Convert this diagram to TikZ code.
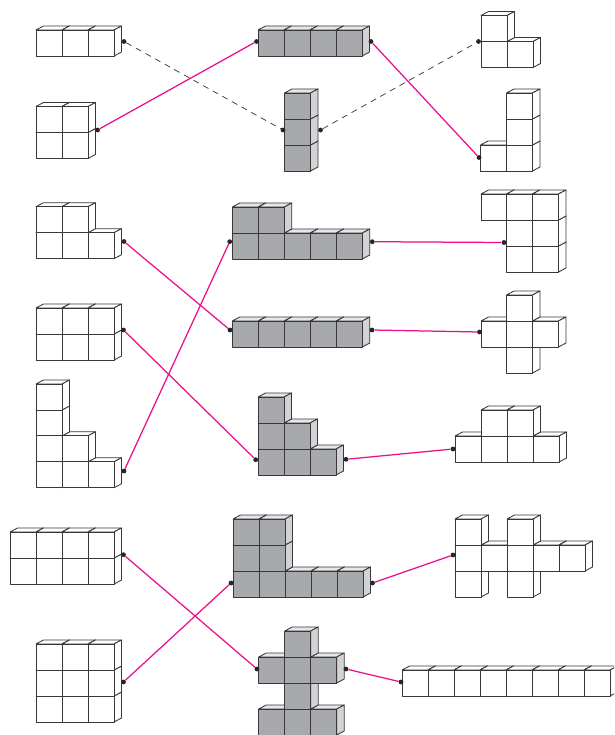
\documentclass[tikz,border=0pt]{standalone}
\definecolor{cubeink}{HTML}{38383A}
\definecolor{pinkline}{HTML}{EC0F8C}
\definecolor{cubegray}{HTML}{A7A9AC}
\definecolor{cubeside}{HTML}{D1D3D4}
\definecolor{cubetop}{HTML}{E6E7E8}
\tikzset{
  cubeline/.style={draw=cubeink,line width=0.85pt,line join=round},
  dot/.style={circle,fill=black!85,inner sep=0pt,minimum size=4.8pt},
  plink/.style={draw=pinkline,line width=1.25pt},
  dlink/.style={draw=black!80,line width=0.7pt,dash pattern=on 6pt off 5pt}
}
% #1 front colour, #2 side colour, #3 top colour, #4 list of x/y of front top-left corners
\newcommand{\cubes}[4]{%
  \foreach \cx/\cy in {#4}{%
    \draw[cubeline,fill=#3] (\cx,\cy) -- ++(7.5,-4) -- ++(26,0) -- ++(-7.5,4) -- cycle;
    \draw[cubeline,fill=#2] (\cx+26,\cy) -- ++(7.5,-4) -- ++(0,26) -- ++(-7.5,4) -- cycle;
    \draw[cubeline,fill=#1] (\cx,\cy) rectangle ++(26,26);
  }%
}
\newcommand{\wcubes}[1]{\cubes{white}{white}{white}{#1}}
\newcommand{\gcubes}[1]{\cubes{cubegray}{cubeside}{cubetop}{#1}}
\begin{document}
\begin{tikzpicture}[x=1pt,y=-1pt]
\clip (0,0) rectangle (614,735);
\fill[white] (0,0) rectangle (614,735);
% top group
\wcubes{36/30,62/30,88/30}
\wcubes{36/132.5,62/132.5,36/106.5,62/106.5}
\gcubes{258/30,284/30,310/30,336/30}
\gcubes{284.5/145,284.5/119,284.5/93}
\wcubes{481/41.5,507/41.5,481/15.5}
\wcubes{480.5/145,506.5/145,506.5/119,506.5/93}
% middle group, left
\wcubes{36/232.7,62/232.7,88/232.7,36/206.7,62/206.7}
\wcubes{36/334,62/334,88/334,36/308,62/308,88/308}
\wcubes{36/461.8,62/461.8,88/461.8,36/435.8,62/435.8,36/409.9,36/384}
% middle group, centre
\gcubes{232.3/233,258.3/233,284.3/233,310.3/233,336.3/233,232.3/207,258.3/207}
\gcubes{232.3/321,258.3/321,284.3/321,310.3/321,336.3/321}
\gcubes{258/449,284/449,310/449,258/423,284/423,258/397}
% middle group, right
\wcubes{506.5/246,532.5/246,506.5/220,532.5/220,481/194,506.5/194,532.5/194}
\wcubes{506.5/347,481/321,506.5/321,532.5/321,506.5/295}
\wcubes{455/436,481/436,507/436,533/436,481/410,507/410}
% bottom group
\wcubes{10/558,36/558,62/558,88/558,10/532,36/532,62/532,88/532}
\wcubes{36/696,62/696,88/696,36/670,62/670,88/670,36/644,62/644,88/644}
\gcubes{233/571,259/571,285/571,311/571,337/571,233/545,259/545,233/519,259/519}
\gcubes{258.7/709,284.7/709,310.7/709,284.7/683,258.7/657,284.7/657,310.7/657,284.7/631}
\wcubes{455/571,507/571,455/545,481/545,507/545,533/545,559/545,455/519,507/519}
\wcubes{402/670,428/670,454/670,480/670,506/670,532/670,558/670,584/670}
% connector ends
\node[dot] (a1) at (124,41.5) {};
\node[dot] (a2) at (283,130) {};
\node[dot] (b1) at (97.5,130) {};
\node[dot] (b2) at (256.5,41.5) {};
\node[dot] (c1) at (320.5,130) {};
\node[dot] (c2) at (478.5,41.5) {};
\node[dot] (d1) at (371,41.5) {};
\node[dot] (d2) at (479,157.5) {};
\node[dot] (e1) at (124,241.5) {};
\node[dot] (e2) at (230,330) {};
\node[dot] (f1) at (124,471) {};
\node[dot] (f2) at (229.7,241.7) {};
\node[dot] (g1) at (372.3,241.7) {};
\node[dot] (g2) at (504,242.5) {};
\node[dot] (h1) at (372,330) {};
\node[dot] (h2) at (479.5,332) {};
\node[dot] (i1) at (123.5,330) {};
\node[dot] (i2) at (255.7,459.7) {};
\node[dot] (j1) at (346,459.3) {};
\node[dot] (j2) at (453,449) {};
\node[dot] (k1) at (123.5,554.7) {};
\node[dot] (k2) at (257,669) {};
\node[dot] (l1) at (123.5,682) {};
\node[dot] (l2) at (231,583) {};
\node[dot] (m1) at (372.5,583) {};
\node[dot] (m2) at (453,555) {};
\node[dot] (n1) at (346,669) {};
\node[dot] (n2) at (401,682) {};
% connectors
\draw[dlink] (a1) -- (a2);
\draw[dlink] (c1) -- (c2);
\draw[plink] (b1) -- (b2);
\draw[plink] (d1) -- (d2);
\draw[plink] (e1) -- (e2);
\draw[plink] (f1) -- (f2);
\draw[plink] (g1) -- (g2);
\draw[plink] (h1) -- (h2);
\draw[plink] (i1) -- (i2);
\draw[plink] (j1) -- (j2);
\draw[plink] (k1) -- (k2);
\draw[plink] (l1) -- (l2);
\draw[plink] (m1) -- (m2);
\draw[plink] (n1) -- (n2);
\end{tikzpicture}
\end{document}
